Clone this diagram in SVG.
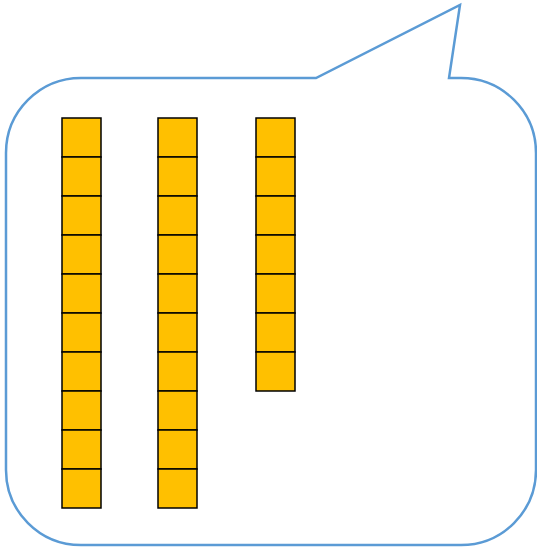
<svg xmlns="http://www.w3.org/2000/svg" width="537" height="550" viewBox="0 0 537 550">
<style>
.bubble{fill:#FFFFFF;stroke:#5B9BD5;stroke-width:2.5;stroke-linejoin:miter}
.cube{fill:#FFC000;stroke:#000000;stroke-width:1.5}
</style>
<defs>
<rect id="c" class="cube" width="39" height="39"/>
</defs>
<g id="bubble">
<path class="bubble" d="M 81 78 H 316 L 460 5 L 449 78 H 461 A 75 75 0 0 1 536 153 V 470 A 75 75 0 0 1 461 545 H 81 A 75 75 0 0 1 6 470 V 153 A 75 75 0 0 1 81 78 Z"/>
</g>
<g id="column1">
<use href="#c" x="62" y="118"/><use href="#c" x="62" y="157"/><use href="#c" x="62" y="196"/><use href="#c" x="62" y="235"/><use href="#c" x="62" y="274"/><use href="#c" x="62" y="313"/><use href="#c" x="62" y="352"/><use href="#c" x="62" y="391"/><use href="#c" x="62" y="430"/><use href="#c" x="62" y="469"/>
</g>
<g id="column2">
<use href="#c" x="158" y="118"/><use href="#c" x="158" y="157"/><use href="#c" x="158" y="196"/><use href="#c" x="158" y="235"/><use href="#c" x="158" y="274"/><use href="#c" x="158" y="313"/><use href="#c" x="158" y="352"/><use href="#c" x="158" y="391"/><use href="#c" x="158" y="430"/><use href="#c" x="158" y="469"/>
</g>
<g id="column3">
<use href="#c" x="256" y="118"/><use href="#c" x="256" y="157"/><use href="#c" x="256" y="196"/><use href="#c" x="256" y="235"/><use href="#c" x="256" y="274"/><use href="#c" x="256" y="313"/><use href="#c" x="256" y="352"/>
</g>
<g id="connectors"/>
</svg>
